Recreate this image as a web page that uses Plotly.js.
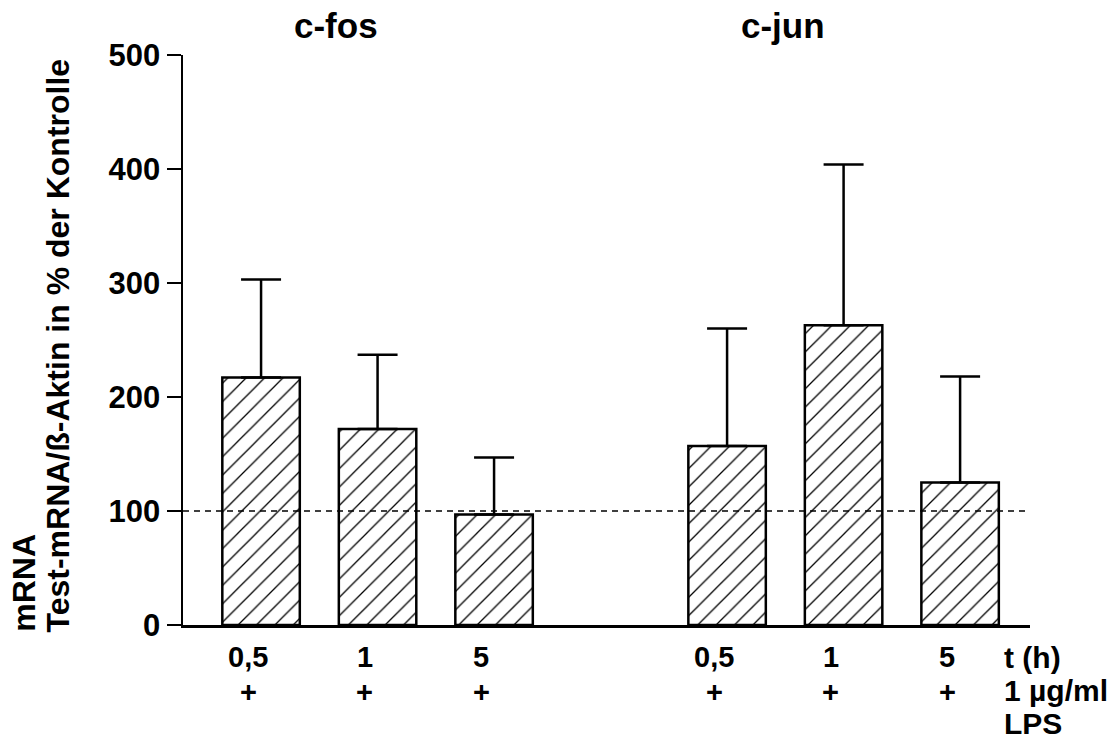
<!DOCTYPE html>
<html>
<head>
<meta charset="utf-8">
<script src="https://cdn.plot.ly/plotly-3.0.1.min.js"></script>
<style>
html,body{margin:0;padding:0;background:#fff;}
#chart{width:1114px;height:746px;}
</style>
</head>
<body>
<div id="chart"></div>
<script>
// ---- data ----
const groups = ['c-fos', 'c-jun'];
const timeLabels = ['0,5', '1', '5'];
const lpsLabels = ['+', '+', '+'];
const rowLabels = ['t (h)', '1 µg/ml', 'LPS'];
const cfosMean = [217, 172, 97];
const cfosUpper = [303, 237, 147];
const cjunMean = [157, 263, 125];
const cjunUpper = [260, 404, 218];
const yTicks = [0, 100, 200, 300, 400, 500];
const controlLevel = 100;
const yTitleLines = ['mRNA', 'Test-mRNA/ß-Aktin in % der Kontrolle'];

const FONT = 'Liberation Sans, Arial, Helvetica, sans-serif';
const means = [cfosMean, cjunMean];
const uppers = [cfosUpper, cjunUpper];
const titleOffset = [0.64, 0.48];

const traces = groups.map((g, gi) => {
  const xs = timeLabels.map((t, i) => gi * 4 + i);
  const m = means[gi];
  const up = uppers[gi].map((u, i) => u - m[i]);
  return {
    type: 'bar',
    name: g,
    x: xs,
    y: m,
    width: 0.665,
    marker: {
      color: 'white',
      line: {color: 'black', width: 2.5},
      pattern: {shape: '/', fgcolor: 'black', bgcolor: 'white', size: 13, solidity: 0.1}
    },
    error_y: {
      type: 'data', symmetric: false, array: up, arrayminus: m.map(() => 0),
      color: 'black', thickness: 2.5, width: 20
    },
    showlegend: false,
    hoverinfo: 'skip'
  };
});

const annotations = [];
groups.forEach((g, gi) => {
  annotations.push({
    text: g, xref: 'x', yref: 'paper', x: gi * 4 + titleOffset[gi], y: 1, yshift: 30,
    xanchor: 'center', yanchor: 'middle', showarrow: false,
    font: {family: FONT, size: 35, color: 'black', weight: 700}
  });
  timeLabels.forEach((t, i) => {
    annotations.push({
      text: t, xref: 'x', yref: 'paper', x: gi * 4 + i, y: 0, yshift: -32, xshift: -13,
      xanchor: 'center', yanchor: 'middle', showarrow: false,
      font: {family: FONT, size: 29, color: 'black', weight: 700}
    });
    annotations.push({
      text: lpsLabels[i], xref: 'x', yref: 'paper', x: gi * 4 + i, y: 0, yshift: -67, xshift: -13,
      xanchor: 'center', yanchor: 'middle', showarrow: false,
      font: {family: FONT, size: 29, color: 'black', weight: 700}
    });
  });
});
rowLabels.forEach((r, ri) => {
  annotations.push({
    text: r, xref: 'paper', yref: 'paper', x: 0.967, y: 0, yshift: -32 - ri * 33,
    xanchor: 'left', yanchor: 'middle', showarrow: false,
    font: {family: FONT, size: 30, color: 'black', weight: 700}
  });
});
yTitleLines.forEach((t, li) => {
  annotations.push({
    text: t, xref: 'paper', yref: 'paper', x: li === 0 ? -0.188 : -0.147, y: 0, yshift: -9,
    xanchor: 'center', yanchor: 'bottom', textangle: -90, showarrow: false,
    font: {family: FONT, size: 32, color: 'black', weight: 700}
  });
});

const layout = {
  width: 1114, height: 746,
  margin: {l: 183, r: 84, t: 55, b: 121, pad: 0},
  paper_bgcolor: 'white', plot_bgcolor: 'white',
  font: {family: FONT, color: 'black'},
  xaxis: {
    range: [-0.67, 6.6], showline: true, linecolor: 'black', linewidth: 2.5,
    showgrid: false, zeroline: false, showticklabels: false, ticks: '', fixedrange: true
  },
  yaxis: {
    range: [0, 500], tickvals: yTicks, ticktext: yTicks.map(String),
    showline: true, linecolor: 'black', linewidth: 2.5,
    ticks: 'outside', ticklen: 14, tickwidth: 2.5, tickcolor: 'black',
    showgrid: false, zeroline: false,
    tickfont: {family: FONT, size: 31, color: 'black', weight: 700}
  },
  shapes: [{
    type: 'line', xref: 'paper', yref: 'y', x0: 0, x1: 1, y0: controlLevel, y1: controlLevel,
    line: {color: 'black', width: 1.5, dash: '6px,5px'}, layer: 'above'
  }],
  annotations: annotations,
  bargap: 0
};

Plotly.newPlot('chart', traces, layout, {displayModeBar: false, staticPlot: true});
</script>
</body>
</html>
